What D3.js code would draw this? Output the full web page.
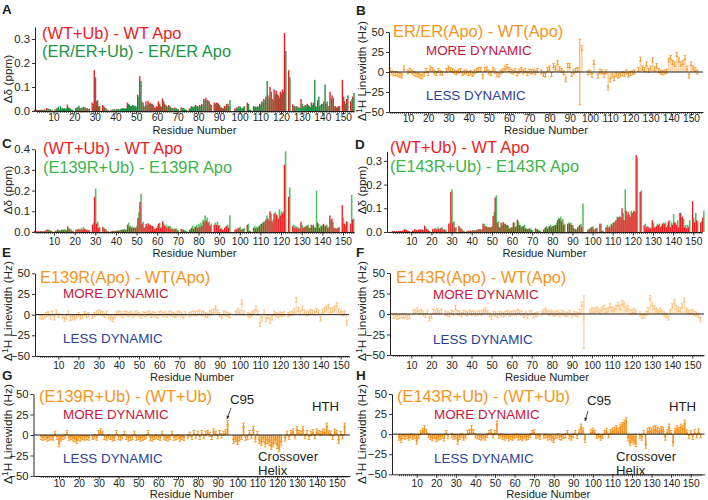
<!DOCTYPE html>
<html><head><meta charset="utf-8">
<script src="https://cdn.jsdelivr.net/npm/d3@7"></script>
<style>
html,body{margin:0;padding:0;background:#fff;}
svg{display:block;font-family:"Liberation Sans",Arial,sans-serif;}
</style></head><body>
<svg id="chart" width="708" height="500"></svg>
<script>
// ---------------- DATA ----------------
const residues = d3.range(1, 156); // residues 1..155
const xTickValues = [10,20,30,40,50,60,70,80,90,100,110,120,130,140,150];
const cspTicksAD = [0, 0.1, 0.2, 0.3];
const cspTicksC = [0, 0.1, 0.2, 0.3, 0.4];
const lwTicks = [-50, -25, 0, 25, 50];

// Chemical shift perturbations (ppm)
const wtUb = [
 0.005,0.004,0.003,0.005,0.004,0.006,0.012,0.008,0.004,null,
 0.006,0.012,0.008,0.010,0.010,0.008,0.027,0.012,0.005,null,
 0.012,0.015,0.010,0.012,0.016,0.010,0.008,null,0.035,0.170,
 0.040,0.020,null,0.025,0.015,0.005,null,0.004,0.006,0.005,
 0.008,0.006,0.010,0.012,0.010,0.035,0.025,0.020,0.020,0.020,
 0.068,0.145,0.040,0.020,0.040,0.042,0.035,0.030,0.015,0.020,
 0.040,0.020,0.052,0.030,0.020,0.025,0.015,0.012,0.015,0.008,
 null,0.015,0.012,0.005,null,0.010,0.020,0.015,0.025,0.020,
 0.025,0.030,0.050,0.055,0.045,0.030,null,0.035,0.035,0.030,
 0.015,0.010,0.020,0.030,0.020,null,null,0.010,0.015,0.020,
 0.010,0.015,null,0.035,0.005,null,0.020,0.018,0.020,0.030,
 0.040,0.050,0.060,0.065,0.100,0.050,0.090,0.085,0.065,0.080,
 0.090,0.325,null,0.170,null,0.028,0.020,0.020,0.015,0.050,
 0.020,0.025,0.030,0.020,0.035,0.035,0.020,0.045,0.020,0.030,
 0.040,0.030,0.020,0.080,0.065,0.020,0.015,0.020,null,0.130,
 0.040,0.050,null,0.040,0.060];
const erUb = [
 0.008,0.004,0.004,0.006,0.005,0.005,0.010,0.008,0.005,null,
 0.008,0.018,0.020,0.012,0.012,0.010,0.015,0.010,0.006,null,
 0.015,0.022,0.014,0.018,0.015,0.012,0.010,null,0.030,0.140,
 0.045,0.020,null,0.020,0.012,0.006,null,0.005,0.007,0.006,
 0.008,0.008,0.012,0.010,0.012,0.030,0.020,0.025,0.022,0.018,
 0.060,0.125,0.035,0.018,0.025,0.030,0.030,0.025,0.012,0.018,
 0.030,0.018,0.040,0.025,0.018,0.020,0.012,0.010,0.012,0.008,
 null,0.012,0.010,0.006,null,0.012,0.018,0.020,0.020,0.018,
 0.020,0.025,0.045,0.045,0.040,0.025,null,0.030,0.035,0.025,
 0.015,0.012,0.020,0.030,0.045,null,null,0.012,0.015,0.018,
 0.012,0.020,null,0.030,0.006,null,0.018,0.015,0.018,0.025,
 0.035,0.045,0.125,0.055,0.080,0.045,0.070,0.070,0.055,0.070,
 0.080,0.250,null,0.140,null,0.022,0.018,0.015,0.012,0.030,
 0.018,0.020,0.025,0.015,0.025,0.130,0.018,0.060,0.025,0.030,
 0.110,0.040,0.020,0.050,0.055,0.020,0.015,0.020,null,0.060,
 0.030,0.065,null,0.050,0.075];
const e139rUb = [
 0.004,0.003,0.003,0.004,0.003,0.008,0.012,0.010,0.004,null,
 0.005,0.010,0.008,0.012,0.015,0.010,0.020,0.015,0.006,null,
 0.010,0.015,0.018,0.025,0.015,0.012,0.010,null,0.045,0.210,
 0.050,0.025,null,0.022,0.015,0.005,null,0.005,0.006,0.006,
 0.008,0.010,0.012,0.015,0.012,0.045,0.030,0.025,0.022,0.030,
 0.095,0.185,0.050,0.025,0.030,0.035,0.030,0.025,0.015,0.030,
 0.045,0.025,0.040,0.035,0.030,0.030,0.020,0.015,0.018,0.010,
 null,0.012,0.010,0.005,null,0.015,0.030,0.025,0.035,0.040,
 0.045,0.060,0.080,0.070,0.050,0.040,null,0.045,0.050,0.035,
 0.020,0.012,0.025,0.035,0.080,null,null,0.015,0.020,0.025,
 0.015,0.020,null,0.040,0.006,null,0.030,0.025,0.030,0.040,
 0.045,0.050,0.080,0.055,0.090,0.060,0.095,0.080,0.110,0.100,
 0.100,0.390,null,0.215,null,0.035,0.030,0.025,0.020,0.035,
 0.025,0.030,0.035,0.020,0.030,0.025,0.200,0.040,0.030,0.035,
 0.030,0.035,0.025,0.060,0.050,0.020,0.020,0.025,null,0.070,
 0.030,0.050,null,0.180,0.065];
const e143rUb = [
 0.004,0.003,0.003,0.005,0.004,0.006,0.010,0.008,0.004,null,
 0.006,0.010,0.008,0.012,0.012,0.010,0.020,0.012,0.005,null,
 0.012,0.015,0.020,0.015,0.020,0.012,0.010,null,0.040,0.180,
 0.045,0.020,null,0.020,0.012,0.005,null,0.005,0.006,0.005,
 0.008,0.008,0.010,0.012,0.012,0.035,0.025,0.022,0.020,0.025,
 0.085,0.155,0.045,0.020,0.030,0.035,0.030,0.025,0.015,0.020,
 0.040,0.025,0.045,0.030,0.025,0.030,0.015,0.012,0.015,0.008,
 null,0.012,0.010,0.005,null,0.015,0.025,0.020,0.030,0.025,
 0.030,0.040,0.060,0.065,0.055,0.035,null,0.040,0.040,0.030,
 0.015,0.012,0.025,0.035,0.120,null,null,0.012,0.020,0.025,
 0.012,0.018,null,0.035,0.006,null,0.030,0.025,0.035,0.040,
 0.045,0.065,0.065,0.060,0.080,0.180,0.070,0.075,0.090,0.085,
 0.085,0.315,null,0.175,null,0.035,0.025,0.020,0.018,0.040,
 0.020,0.035,0.035,0.025,0.040,0.040,0.030,0.050,0.040,0.075,
 0.040,0.050,0.080,0.060,0.055,0.030,0.030,0.050,null,0.060,
 0.080,0.045,null,0.045,0.090];

// 1H linewidth differences (Hz)
const lwErApo = [
 2,-1,-2,-2,-3,-4,-5,5,null,0,
 2,0,-2,-3,-4,-5,-6,-3,2,-2,
 5,3,0,-2,2,-1,-2,null,2,5,
 3,2,0,-1,1,2,-2,0,0,-2,
 -1,-3,0,2,3,3,-6,3,4,0,
 -2,3,1,-3,-4,0,2,5,7,3,
 1,0,2,-2,1,3,0,2,-2,1,
 0,1,-1,2,null,0,-3,-4,3,5,
 -3,8,5,12,4,2,-1,-10,8,8,
 -3,0,2,3,0,30,null,null,-1,0,
 -4,12,null,-5,1,0,-4,0,-20,-10,
 -5,-8,-3,-5,-4,-2,-3,0,-4,-2,
 -1,0,null,3,16,5,3,10,2,5,
 15,4,8,2,0,-1,0,1,15,18,
 12,10,22,15,10,12,18,5,-5,10,
 5,3,0,null,null];
const lwE139rApo = [
 -2,-3,-2,0,1,-3,2,-4,3,-1,
 null,-2,-6,-3,2,-5,-3,-4,-2,0,
 -3,-2,1,-1,0,null,-2,0,2,3,
 2,1,-1,2,-2,-4,-6,-2,1,2,
 1,-1,2,1,0,2,-1,1,2,0,
 -2,1,0,1,2,-1,1,0,-2,1,
 2,0,1,-1,2,1,0,-1,1,2,
 0,-2,1,null,0,1,2,1,2,3,
 1,2,0,-1,2,3,5,8,3,0,
 -2,2,1,0,-1,null,null,2,5,3,
 15,2,null,0,-1,1,3,8,2,-12,
 -5,3,-6,-2,-8,-4,2,0,-1,1,
 0,1,null,0,1,2,5,18,6,2,
 8,3,1,2,4,3,2,5,3,-5,
 4,6,8,10,5,6,8,12,5,3,
 1,2,-10,null,null];
const lwE143rApo = [
 -3,-2,-4,-3,-2,-3,-2,-4,-3,null,
 2,3,5,2,3,1,-2,2,-6,-3,
 3,2,4,2,3,null,1,0,-1,2,
 1,8,2,1,-1,2,1,0,2,1,
 2,0,1,2,1,3,5,2,-1,-4,
 1,0,-2,1,0,-1,1,2,0,1,
 2,1,3,2,1,-2,0,-3,1,2,
 -2,-1,0,null,1,3,5,2,1,2,
 0,1,2,-1,2,1,-1,0,2,-2,
 1,0,-1,3,12,-10,null,null,3,5,
 4,6,5,3,6,8,4,5,10,6,
 5,8,12,8,14,12,6,8,2,3,
 4,2,null,0,-3,-2,1,5,20,12,
 8,5,3,5,2,0,-2,-5,3,10,
 15,8,6,5,10,17,5,3,2,3,
 1,0,-2,-7,null];
const lwE139rUb = [
 -3,-4,-3,-5,-4,-3,-4,2,-3,-12,
 -5,-3,-2,3,-4,-3,-5,-6,-8,-4,
 -5,-3,-4,-3,-4,null,-3,-2,-4,3,
 5,2,-3,-4,-2,-3,-5,-4,3,-3,
 -4,-2,2,-3,-5,-4,-3,2,-4,-3,
 -5,-4,-3,-2,3,-4,-5,-3,-2,-3,
 -4,2,-3,-4,-5,-3,2,-4,-3,-2,
 -5,-3,-4,null,-2,1,-3,3,-2,2,
 -3,3,-2,2,3,1,-3,5,2,-2,
 3,-1,2,4,15,null,null,-8,-6,-9,
 -5,-3,12,-4,-3,3,-2,8,-6,2,
 -8,-10,-6,-12,-8,-10,-15,-12,-8,-14,
 -18,-10,null,-5,2,-3,3,5,-2,8,
 3,2,8,-2,3,-3,2,4,-2,5,
 3,2,5,4,12,3,2,-3,5,3,
 -8,2,-2,12,null];
const lwE143rUb = [
 -5,-8,-3,-4,-3,-5,-2,-4,-3,-10,
 -3,2,5,8,3,-2,-4,-6,-3,-7,
 -5,-4,-3,-6,2,-3,null,-2,-4,-3,
 -10,-4,-2,-5,-3,2,3,8,3,-2,
 -3,-4,-5,-3,-5,-2,2,3,-2,2,
 14,-3,-2,-4,-5,-3,-6,-4,-5,-3,
 -2,-5,-4,-6,-3,-5,-4,-2,2,3,
 -3,-2,-4,null,-3,-2,-5,-4,-6,-8,
 -3,-2,-4,-5,-3,-2,2,-3,-5,-2,
 2,-3,3,10,5,-8,null,null,3,5,
 2,-3,-2,-5,-3,2,5,-2,3,5,
 6,8,5,10,12,15,18,-6,-12,-8,
 -10,-13,null,-3,-5,2,-15,5,6,5,
 7,8,6,5,7,6,-5,3,10,2,
 -12,5,8,6,10,8,15,3,-3,2,
 -4,3,-2,4,-2];
// error bar half-widths (Hz): typical value and exceptional residues
const lwErrTypical = 2.5;
const lwErrSpecial = { B: {95: 41, 96: 3}, F: {96: 32} };

// ---------------- STYLE ----------------
const RED = '#ed1c24', DKGREEN = '#1e9447', GREEN = '#3db54a', ORANGE = '#f7941d';
const CRIMSON = '#c8143c', BLUE = '#2a3f9a', INK = '#231f20';
const FONT = '"Liberation Sans",Arial,sans-serif';

const panels = [
 {id:'A', type:'csp', x0:35, x1:354, p10:53.5, p150:343, yDom:[0,0.35], yRange:[111,27], yTicks:cspTicksAD,
  lab:117.8, tit:129.6, letter:[2,14], ytx:8, yty:79,
  series:[{data:wtUb,color:RED,dx:-1.3,w:1.4},{data:erUb,color:DKGREEN,dx:0.0,w:1.4}],
  legend:[['(WT+Ub) - WT Apo',RED,42,39],['(ER/ER+Ub) - ER/ER Apo',DKGREEN,42,57]]},
 {id:'C', type:'csp', x0:35, x1:354, p10:54, p150:343, yDom:[0,0.4], yRange:[232,149.2], yTicks:cspTicksC,
  lab:241.3, tit:253, letter:[2,148], ytx:8, yty:190,
  series:[{data:e139rUb,color:GREEN,dx:-0.4,w:1.6,op:0.85},{data:wtUb,color:RED,dx:-1.4,w:1.3}],
  legend:[['(WT+Ub) - WT Apo',RED,43,154],['(E139R+Ub) - E139R Apo',GREEN,43,173]]},
 {id:'D', type:'csp', x0:387, x1:702, p10:411.3, p150:693.3, yDom:[0,0.34], yRange:[232,151.4], yTicks:cspTicksAD,
  lab:241.3, tit:253, letter:[355,149], ytx:362, yty:190,
  series:[{data:e143rUb,color:GREEN,dx:-0.3,w:1.5,op:0.9},{data:wtUb,color:RED,dx:-1.4,w:1.3}],
  legend:[['(WT+Ub) - WT Apo',RED,390,153],['(E143R+Ub) - E143R Apo',GREEN,390,172]]},
 {id:'B', type:'lw', x0:389, x1:703, p10:408, p150:691, yDom:[-50,50], yRange:[112,32],
  lab:118.3, tit:129.6, letter:[356,15], ytx:362, yty:71, data:lwErApo, barFill:'#fdd5a6', errColor:ORANGE,
  title:['ER/ER(Apo) - WT(Apo)',393,37], more:[426,55], less:[426,100]},
 {id:'E', type:'lw', x0:35, x1:349, p10:58.3, p150:340.7, yDom:[-50,50], yRange:[356,273.3],
  lab:365.3, tit:377, letter:[2,257], ytx:8, yty:311, data:lwE139rApo, barFill:'#fde3c4', errColor:'#fabc74',
  title:['E139R(Apo) - WT(Apo)',40,283], more:[63,298], less:[63,343]},
 {id:'F', type:'lw', x0:390, x1:704, p10:411.3, p150:692.3, yDom:[-50,50], yRange:[355,273],
  lab:365.3, tit:377, letter:[356,257], ytx:362, yty:311, data:lwE143rApo, barFill:'#fde3c4', errColor:'#fabc74',
  title:['E143R(Apo) - WT(Apo)',396,283], more:[433,299], less:[433,344]},
 {id:'G', type:'lw', x0:33.5, x1:350, p10:59, p150:336.7, yDom:[-50,50], yRange:[476,394],
  lab:483.2, tit:494.2, letter:[2,380], ytx:8, yty:434, data:lwE139rUb, barFill:ORANGE, errColor:ORANGE,
  title:['(E139R+Ub) - (WT+Ub)',39,402], more:[63,419], less:[63,463],
  notes:[['C95',230,404],['HTH',312,411],['Crossover',258,460.5],['Helix',258,475]], arrow:[231,408,227,419]},
 {id:'H', type:'lw', x0:392, x1:704.5, p10:416.7, p150:690.7, yDom:[-50,50], yRange:[474.3,394],
  lab:483.2, tit:494.2, letter:[356,380], ytx:362, yty:434, data:lwE143rUb, barFill:ORANGE, errColor:ORANGE,
  title:['(E143R+Ub) - (WT+Ub)',397,402], more:[434,419], less:[434,463],
  notes:[['C95',587,405],['HTH',669,411],['Crossover',616,460.5],['Helix',616,475]], arrow:[588,411,585,421]}
];

// ---------------- DRAW ----------------
const svg = d3.select('#chart');

function makeX(p){
  const s = d3.scaleLinear().domain([10,150]).range([p.p10,p.p150]);
  return d3.scaleLinear().domain([s.invert(p.x0), s.invert(p.x1)]).range([p.x0,p.x1]);
}

function xAxis(g, p, x, yPix){
  const minor = residues.filter(r => x(r) >= p.x0 && x(r) <= p.x1);
  g.append('g').attr('transform',`translate(0,${yPix})`)
    .call(d3.axisBottom(x).tickValues(minor).tickSize(2).tickFormat(''))
    .call(a => a.select('.domain').remove())
    .call(a => a.selectAll('text').remove())
    .call(a => a.selectAll('line').attr('stroke',INK).attr('stroke-width',0.7));
  const ax = g.append('g').attr('transform',`translate(0,${yPix})`)
    .call(d3.axisBottom(x).tickValues(xTickValues).tickSize(3.5).tickSizeOuter(0));
  ax.select('.domain').attr('stroke',INK).attr('stroke-width',1);
  ax.selectAll('line').attr('stroke',INK).attr('stroke-width',0.9);
  ax.selectAll('text').attr('y', p.lab - yPix).attr('dy','0.35em')
    .attr('font-size',10.2).attr('fill',INK).attr('font-family',FONT);
  g.append('text').attr('x',(p.x0+p.x1)/2).attr('y',p.tit).attr('dy','0.35em')
    .attr('text-anchor','middle').attr('font-size',11.2).attr('fill',INK).text('Residue Number');
}

function yAxis(g, p, y, ticks, fmt){
  const ax = g.append('g').attr('transform',`translate(${p.x0},0)`)
    .call(d3.axisLeft(y).tickValues(ticks).tickFormat(fmt).tickSize(3).tickSizeOuter(0).tickPadding(2));
  ax.select('.domain').attr('stroke',INK).attr('stroke-width',1);
  ax.selectAll('line').attr('stroke',INK).attr('stroke-width',0.9);
  ax.selectAll('text').attr('font-size',11.3).attr('fill',INK).attr('font-family',FONT);
}

panels.forEach(p => {
  const g = svg.append('g').attr('class','panel-'+p.id);
  const x = makeX(p);
  const y = d3.scaleLinear().domain(p.yDom).range(p.yRange);

  g.append('text').attr('x',p.letter[0]).attr('y',p.letter[1]).attr('font-size',13.5)
    .attr('font-weight','bold').attr('fill',INK).text(p.id);

  if (p.type === 'csp'){
    p.series.forEach(s => {
      const pts = residues.map((r,i)=>({r, v:s.data[i]})).filter(d => d.v != null);
      g.append('g').selectAll('rect').data(pts).join('rect')
        .attr('x', d => x(d.r) + s.dx).attr('width', s.w)
        .attr('y', d => y(d.v)).attr('height', d => y(0) - y(d.v))
        .attr('fill', s.color).attr('opacity', s.op || 1);
    });
    yAxis(g, p, y, p.yTicks, d3.format('.1f'));
    xAxis(g, p, x, y(0));
    g.append('text').attr('transform',`translate(${p.ytx},${p.yty}) rotate(-90)`)
      .attr('text-anchor','middle').attr('dy','0.35em').attr('font-size',11.8).attr('fill',INK)
      .text('\u0394\u03b4 (ppm)');
    p.legend.forEach(l => {
      g.append('text').attr('x',l[2]).attr('y',l[3]).attr('font-size',16.4).attr('fill',l[1]).text(l[0]);
    });
  } else {
    const special = lwErrSpecial[p.id] || {};
    const pts = residues.map((r,i)=>({r, v:p.data[i], e: special[r] != null ? special[r] : lwErrTypical}))
      .filter(d => d.v != null);
    g.append('g').selectAll('rect').data(pts).join('rect')
      .attr('x', d => x(d.r) - 0.8).attr('width', 1.6)
      .attr('y', d => Math.min(y(d.v), y(0))).attr('height', d => Math.abs(y(d.v) - y(0)))
      .attr('fill', p.barFill);
    const eb = g.append('g').attr('stroke', p.errColor).attr('stroke-width',0.9);
    eb.selectAll('line.v').data(pts).join('line').attr('class','v')
      .attr('x1', d => x(d.r)).attr('x2', d => x(d.r))
      .attr('y1', d => y(d.v - d.e)).attr('y2', d => y(d.v + d.e));
    eb.selectAll('line.t').data(pts).join('line').attr('class','t')
      .attr('x1', d => x(d.r) - 1.3).attr('x2', d => x(d.r) + 1.3)
      .attr('y1', d => y(d.v + d.e)).attr('y2', d => y(d.v + d.e));
    eb.selectAll('line.b').data(pts).join('line').attr('class','b')
      .attr('x1', d => x(d.r) - 1.3).attr('x2', d => x(d.r) + 1.3)
      .attr('y1', d => y(d.v - d.e)).attr('y2', d => y(d.v - d.e));
    g.append('line').attr('x1',p.x0).attr('x2',p.x1).attr('y1',y(0)).attr('y2',y(0))
      .attr('stroke',INK).attr('stroke-width',1);
    yAxis(g, p, y, lwTicks, d3.format('d'));
    xAxis(g, p, x, y(-50));
    const t = g.append('text').attr('transform',`translate(${p.ytx},${p.yty}) rotate(-90)`)
      .attr('text-anchor','middle').attr('dy','0.35em').attr('font-size',11.8).attr('fill',INK);
    t.append('tspan').text('\u0394');
    t.append('tspan').attr('dy',-4).attr('font-size',8.5).text('1');
    t.append('tspan').attr('dy',4).text('H Linewidth (Hz)');
    g.append('text').attr('x',p.title[1]).attr('y',p.title[2]).attr('font-size',16.4).attr('fill',ORANGE).text(p.title[0]);
    g.append('text').attr('x',p.more[0]).attr('y',p.more[1]).attr('font-size',13.4).attr('fill',CRIMSON).text('MORE DYNAMIC');
    g.append('text').attr('x',p.less[0]).attr('y',p.less[1]).attr('font-size',13.4).attr('fill',BLUE).text('LESS DYNAMIC');
    if (p.notes){
      p.notes.forEach(n => g.append('text').attr('x',n[1]).attr('y',n[2]).attr('font-size',13.2).attr('fill',INK).text(n[0]));
      const a = p.arrow;
      g.append('line').attr('x1',a[0]).attr('y1',a[1]).attr('x2',a[2]).attr('y2',a[3]).attr('stroke',INK).attr('stroke-width',0.8);
      const ang = Math.atan2(a[3]-a[1], a[2]-a[0]);
      const hl = 3.2, hw = 1.6;
      const bx = a[2] - hl*Math.cos(ang), by = a[3] - hl*Math.sin(ang);
      g.append('path').attr('d',`M${a[2]},${a[3]} L${bx + hw*Math.sin(ang)},${by - hw*Math.cos(ang)} L${bx - hw*Math.sin(ang)},${by + hw*Math.cos(ang)} Z`)
        .attr('fill',INK);
    }
  }
});
</script></body></html>
